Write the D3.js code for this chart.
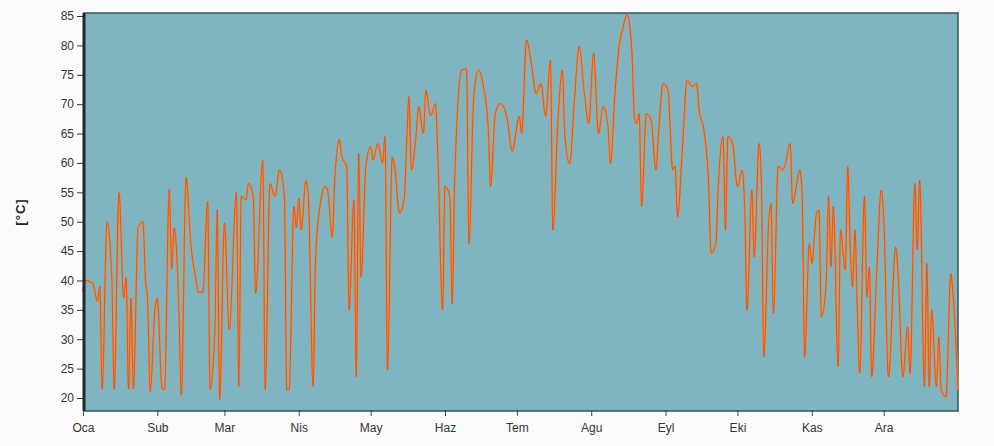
<!DOCTYPE html>
<html>
<head>
<meta charset="utf-8">
<script src="https://cdn.jsdelivr.net/npm/d3@7"></script>
<style>
  body { margin: 0; background: #fbfbfb; }
  text { font-family: "Liberation Sans", Arial, sans-serif; }
</style>
</head>
<body>
<script>
// month names (Turkish short) and the day each month starts on
var monthNames = ['Oca', 'Sub', 'Mar', 'Nis', 'May', 'Haz', 'Tem', 'Agu', 'Eyl', 'Eki', 'Kas', 'Ara'];
var monthStart = [0, 31, 59, 90, 120, 151, 181, 212, 243, 273, 304, 334];
var yTicks = [20, 25, 30, 35, 40, 45, 50, 55, 60, 65, 70, 75, 80, 85];

// day of year and temperature
var days = [0, 1, 4, 6, 7, 8, 10, 12, 13, 15, 17, 18, 19, 20, 21, 23, 25, 26, 27, 28, 30, 31, 33, 34, 36, 37, 38, 40, 41, 43,
    45, 47, 48, 50, 52, 53, 55, 56, 57, 59, 61, 64, 65, 66, 68, 69, 71, 72, 75, 76, 78, 80, 82, 84, 85, 86, 88, 89, 90, 91,
    93, 94, 96, 97, 99, 101, 102, 104, 105, 107, 108, 110, 111, 113, 114, 115, 116, 118, 120, 121, 123, 125, 126, 127, 129, 130, 132, 134, 135, 136,
    137, 139, 140, 142, 143, 145, 147, 148, 150, 151, 153, 154, 155, 158, 160, 161, 163, 165, 167, 169, 170, 172, 174, 176, 177, 179,
    182, 183, 185, 187, 189, 191, 193, 195, 196, 198, 200, 201, 203, 205, 207, 209, 211, 213, 215, 217, 219, 220, 222, 224, 225,
    227, 229, 230, 231, 232, 233, 235, 237, 239, 240, 242, 244, 246, 247, 248, 250, 252, 254, 256, 257, 259, 261, 262, 264, 265, 267, 268, 269, 271,
    273, 275, 276, 277, 279, 280, 282, 283, 284, 286, 287, 288, 290, 292, 293, 295, 296, 298, 299, 300, 301, 303, 304, 306, 307, 308, 310, 311, 312, 313, 315, 316, 318, 319,
    320, 321, 322, 323, 324, 326, 327, 328, 329, 331, 333, 334, 336, 339, 340, 342, 344, 345, 347, 348, 349, 351, 352, 353, 354, 356, 357, 358, 360, 362, 363, 365];
var temps = [38, 40, 39.5, 36.5, 39, 21.5, 50, 40.5, 21.5, 55, 37, 40.5, 21.5, 37, 21.5, 49, 50, 40.5, 36, 21, 35, 37, 21.5, 21.5, 55.5, 42, 49, 35, 20.5, 57.5,
    46, 40.5, 38, 38, 53.5, 21.5, 31.5, 52, 19.7, 49.8, 31.6, 55, 22, 54.3, 53.7, 56.5, 54.3, 37.8, 60.5, 21.4, 56.5, 54.3, 58.8, 54.3, 21.4, 21.5, 52.6, 49, 54, 48.6,
    57, 54.3, 22, 43.5, 53, 56, 55.4, 47.4, 57, 64, 61, 59.4, 35, 53.7, 23.6, 61.6, 40.6, 59.4, 62.8, 60.5, 63.3, 60, 64.5, 24.8, 61, 59.4, 51.5, 54, 63.3, 71.3,
    58.8, 65, 69.6, 65, 72.4, 68, 70.1, 61.6, 35, 56, 54.3, 36, 56.5, 75.8, 76, 46.3, 71.3, 75.8, 73, 66.2, 56, 68.4, 70.1, 69, 67.4, 62,
    67.9, 65, 80.9, 77, 71.8, 73.5, 67.9, 77.5, 48.6, 66.2, 75.8, 64.5, 59.9, 70.7, 79.8, 72.4, 66.7, 78.7, 65, 69.6, 66.2, 59.9, 72.4, 80.9, 82.6,
    85.2, 78.7, 67.9, 66.7, 68.4, 52.6, 68.4, 67.3, 58.8, 64.5, 73.5, 72.4, 58.8, 59.4, 50.8, 62.2, 74.1, 73, 73.5, 69, 65.6, 56, 44.6, 46.3, 56, 64.5, 48.6, 64.5, 63.3,
    56, 58.8, 52.6, 35, 55.4, 44, 63.3, 56.5, 27, 49.7, 53.1, 34.4, 59.4, 58.8, 59.9, 63.3, 53.1, 57.1, 58.8, 54.3, 27, 46.3, 42.9, 51.4, 52, 33.8, 39.5, 54.3, 42.3, 52.6, 25.3, 48.6, 41.8, 59.4,
    46.3, 38.9, 48.6, 35, 24.2, 54.3, 37.2, 42.3, 23.6, 40.6, 55.4, 50.8, 23.6, 45.7, 41.2, 23.6, 32.1, 24.2, 56.5, 45.2, 57.1, 21.9, 42.9, 21.9, 35, 21.9, 30.4, 21.4, 20.2, 41.2, 37.2, 21.4];

var svgWidth = 994;
var svgHeight = 446;
var plotLeft = 84;
var plotRight = 958;
var plotTop = 13;
var plotBottom = 411;

var svg = d3.select('body').append('svg')
    .attr('width', svgWidth)
    .attr('height', svgHeight);

var xScale = d3.scaleLinear()
    .domain([0, 365])
    .range([83, 958]);

var yScale = d3.scaleLinear()
    .domain([20, 85])
    .range([398, 16]);

// plot background
svg.append('rect')
    .attr('x', plotLeft)
    .attr('y', plotTop)
    .attr('width', plotRight - plotLeft)
    .attr('height', plotBottom - plotTop)
    .attr('fill', '#7fb5c0')
    .attr('stroke', '#3b5560')
    .attr('stroke-width', 1.5);

var points = days.map(function(d, i) { return [d, temps[i]]; });

var line = d3.line()
    .curve(d3.curveMonotoneX)
    .x(function(d) { return xScale(d[0]); })
    .y(function(d) { return yScale(d[1]); });

svg.append('path')
    .datum(points)
    .attr('d', line)
    .attr('fill', 'none')
    .attr('stroke', '#e99035')
    .attr('stroke-width', 2.2)
    .attr('stroke-linejoin', 'round');

svg.append('path')
    .datum(points)
    .attr('d', line)
    .attr('fill', 'none')
    .attr('stroke', '#e04c2a')
    .attr('stroke-width', 0.9)
    .attr('stroke-linejoin', 'round');

// thick left edge
svg.append('line')
    .attr('x1', plotLeft).attr('x2', plotLeft)
    .attr('y1', plotTop).attr('y2', plotBottom)
    .attr('stroke', '#1d2a30')
    .attr('stroke-width', 3);

// y axis
var yAxis = d3.axisLeft(yScale)
    .tickValues(yTicks)
    .tickSize(6)
    .tickSizeOuter(0);

var gy = svg.append('g')
    .attr('transform', 'translate(' + (plotLeft - 1) + ',0)')
    .call(yAxis);
gy.select('.domain').remove();
gy.selectAll('line').attr('stroke', '#333');
gy.selectAll('text').attr('font-size', 12).attr('fill', '#333');

// x axis
var xAxis = d3.axisBottom(xScale)
    .tickValues(monthStart)
    .tickFormat(function(d, i) { return monthNames[i]; })
    .tickSize(6)
    .tickSizeOuter(0);

var gx = svg.append('g')
    .attr('transform', 'translate(0,' + (plotBottom - 1) + ')')
    .call(xAxis);
gx.select('.domain').remove();
gx.selectAll('line').attr('stroke', '#444');
gx.selectAll('text').attr('font-size', 12).attr('fill', '#333').attr('dy', '1.05em');

// unit label
svg.append('text')
    .attr('transform', 'translate(25,212) rotate(-90)')
    .attr('text-anchor', 'middle')
    .attr('font-size', 13)
    .attr('font-weight', 'bold')
    .attr('letter-spacing', 1)
    .attr('fill', '#222')
    .text('[°C]');
</script>
</body>
</html>
